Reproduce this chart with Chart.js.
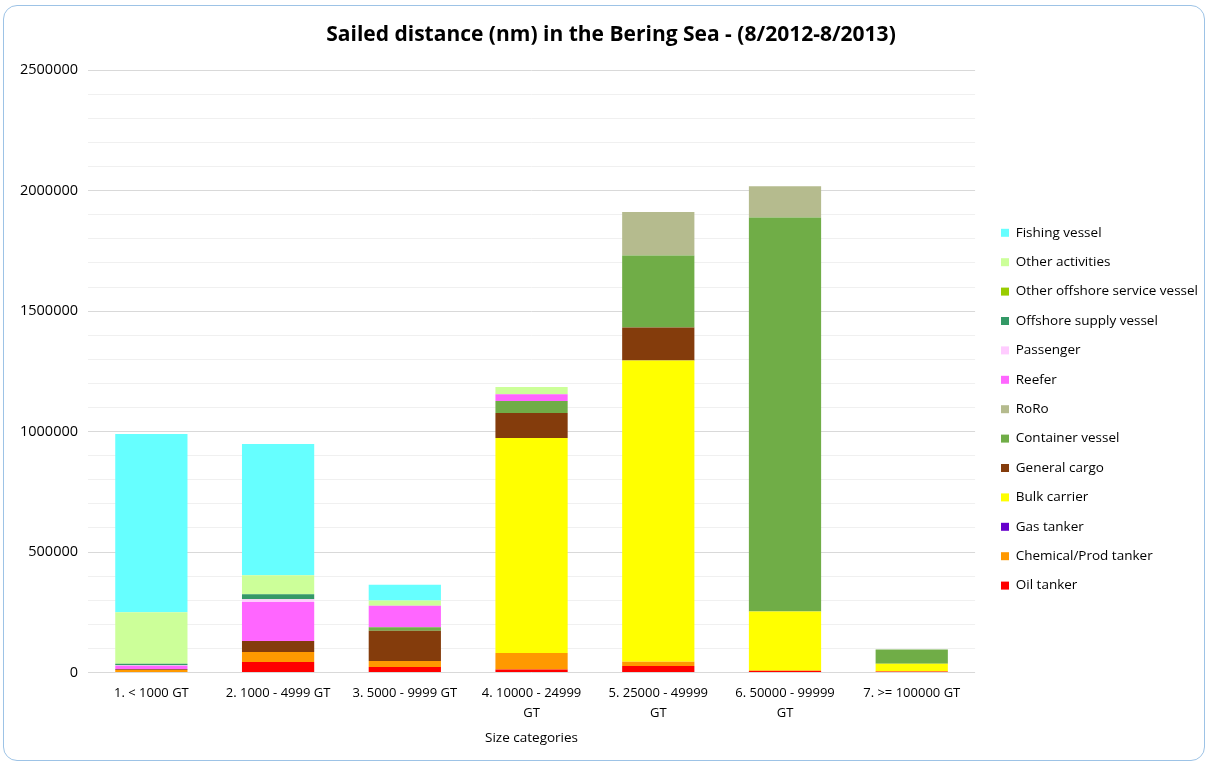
<!DOCTYPE html>
<html>
<head>
<meta charset="utf-8">
<script src="https://cdn.jsdelivr.net/npm/chart.js@4"></script>
<style>
  html, body { margin: 0; padding: 0; background: #fff; }
  .frame {
    position: absolute; left: 3px; top: 5px; width: 1200px; height: 754px;
    border: 1.5px solid #9dc3e6; border-radius: 14px;
  }
  #wrap { position: absolute; left: 0; top: 0; width: 1208px; height: 765px; }
</style>
</head>
<body>
<div class="frame"></div>
<div id="wrap"><canvas id="chart"></canvas></div>
<script>
// size categories (x axis)
const categories = [
    ['1. < 1000 GT'],
    ['2. 1000 - 4999 GT'],
    ['3. 5000 - 9999 GT'],
    ['4. 10000 - 24999', 'GT'],
    ['5. 25000 - 49999', 'GT'],
    ['6. 50000 - 99999', 'GT'],
    ['7. >= 100000 GT']
];

// sailed distance per vessel type, one value per size category
const oilTanker        = [2000, 44000, 23000, 12000, 27000, 7000, 4000];
const chemicalTanker   = [8000, 41000, 25000, 69000, 18000, 0, 0];
const gasTanker        = [0, 0, 0, 0, 0, 0, 0];
const bulkCarrier      = [0, 0, 0, 892000, 1250000, 246000, 32000];
const generalCargo     = [4000, 46000, 125000, 104000, 137000, 0, 0];
const containerVessel  = [0, 0, 15000, 50000, 299000, 1636000, 59000];
const roro             = [0, 0, 0, 0, 180000, 129000, 0];
const reefer           = [14000, 162000, 89000, 28000, 0, 0, 0];
const passenger        = [2000, 11000, 0, 0, 0, 0, 0];
const offshoreSupply   = [6000, 21000, 0, 0, 0, 0, 0];
const otherOffshore    = [0, 0, 0, 0, 0, 0, 0];
const otherActivities  = [214000, 79000, 22000, 30000, 0, 0, 0];
const fishingVessel    = [740000, 544000, 65000, 0, 0, 0, 0];

const yMax = 2500000;
const yStep = 100000;
const yLabelStep = 500000;

const font = "'Open Sans', 'Noto Sans', sans-serif";

const series = [
    { label: 'Oil tanker', data: oilTanker, color: '#ff0000' },
    { label: 'Chemical/Prod tanker', data: chemicalTanker, color: '#ff9900' },
    { label: 'Gas tanker', data: gasTanker, color: '#6600cc' },
    { label: 'Bulk carrier', data: bulkCarrier, color: '#ffff00' },
    { label: 'General cargo', data: generalCargo, color: '#843c0c' },
    { label: 'Container vessel', data: containerVessel, color: '#70ad47' },
    { label: 'RoRo', data: roro, color: '#b5bb8e' },
    { label: 'Reefer', data: reefer, color: '#ff66ff' },
    { label: 'Passenger', data: passenger, color: '#ffccff' },
    { label: 'Offshore supply vessel', data: offshoreSupply, color: '#339966' },
    { label: 'Other offshore service vessel', data: otherOffshore, color: '#99cc00' },
    { label: 'Other activities', data: otherActivities, color: '#ccff99' },
    { label: 'Fishing vessel', data: fishingVessel, color: '#66ffff' }
];

const padLeft = 14;

const ctx = document.getElementById('chart').getContext('2d');
new Chart(ctx, {
    type: 'bar',
    data: {
        labels: categories,
        datasets: series.map(s => ({
            label: s.label,
            data: s.data,
            backgroundColor: s.color,
            borderWidth: 0,
            categoryPercentage: 1,
            barPercentage: 0.57
        }))
    },
    options: {
        responsive: true,
        maintainAspectRatio: false,
        animation: false,
        layout: { padding: { left: padLeft, right: 0, top: 0, bottom: 19 } },
        plugins: {
            tooltip: { enabled: false },
            title: {
                display: true,
                text: 'Sailed distance (nm) in the Bering Sea - (8/2012-8/2013)',
                color: '#000',
                font: { family: font, size: 21, weight: 'bold' },
                padding: { top: 22, bottom: 23 }
            },
            legend: {
                position: 'right',
                reverse: true,
                maxWidth: 300,
                title: { display: true, text: '', padding: { top: 58, bottom: 0 } },
                labels: {
                    boxWidth: 8,
                    boxHeight: 8,
                    padding: 15.9,
                    color: '#000',
                    font: { family: font, size: 13.5 }
                }
            }
        },
        scales: {
            x: {
                stacked: true,
                grid: { display: false, drawTicks: false },
                border: { display: false },
                ticks: {
                    color: '#000',
                    padding: 11,
                    maxRotation: 0,
                    autoSkip: false,
                    font: { family: font, size: 13, lineHeight: 1.55 }
                },
                title: {
                    display: true,
                    text: 'Size categories',
                    color: '#000',
                    font: { family: font, size: 13.5 },
                    padding: { top: -5, bottom: 0 }
                }
            },
            y: {
                stacked: true,
                min: 0,
                max: yMax,
                afterFit: s => { s.width = 88 - padLeft; },
                border: { display: false },
                grid: {
                    drawTicks: false,
                    color: c => (c.tick && c.tick.value % yLabelStep === 0) ? '#d9d9d9' : '#f0f0f0',
                    lineWidth: 1
                },
                ticks: {
                    stepSize: yStep,
                    autoSkip: false,
                    padding: 10,
                    color: '#000',
                    font: { family: font, size: 14.5 },
                    callback: v => (v % yLabelStep === 0 ? String(v) : '')
                }
            },
            gap: {
                type: 'linear',
                position: 'right',
                display: true,
                afterFit: s => { s.width = 10; },
                grid: { display: false, drawTicks: false },
                border: { display: false },
                ticks: { display: false }
            }
        }
    }
});
</script>
</body>
</html>
